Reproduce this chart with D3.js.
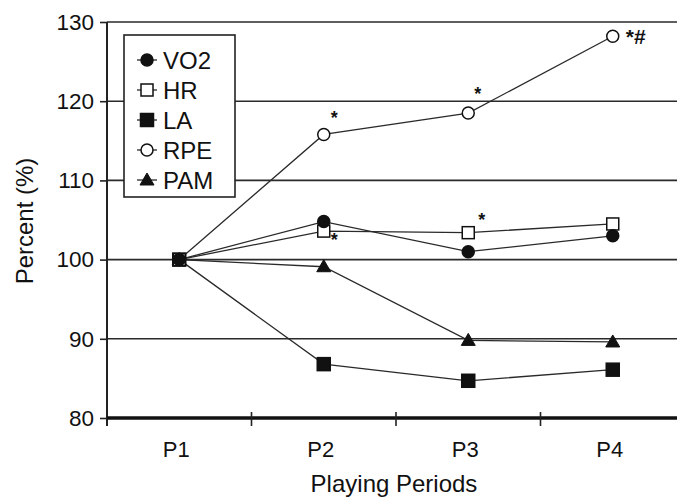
<!DOCTYPE html>
<html>
<head>
<meta charset="utf-8">
<script src="https://cdn.jsdelivr.net/npm/d3@7"></script>
<style>
  body { margin: 0; background: #fff; }
  svg { display: block; font-family: "Liberation Sans", Arial, sans-serif; }
</style>
</head>
<body>
<svg id="chart" width="677" height="497"></svg>
<script>
// playing periods and series values (% of P1)
const periods = ["P1", "P2", "P3", "P4"];
const vo2 = [100, 104.8, 101.0, 103.0];
const hr  = [100, 103.6, 103.4, 104.5];
const la  = [100, 86.8, 84.7, 86.1];
const rpe = [100, 115.8, 118.5, 128.2];
const pam = [100, 99.1, 89.8, 89.6];
const yTicks = [80, 90, 100, 110, 120, 130];

const seriesNames = ["VO2", "HR", "LA", "RPE", "PAM"];
// significance marks: [series, period, text]
const marks = [
  ["RPE", "P2", "*"],
  ["RPE", "P3", "*"],
  ["RPE", "P4", "*#"],
  ["HR", "P2", "*"],
  ["HR", "P3", "*"]
];

const series = [
  {name: "VO2", values: vo2, shape: "circle", fill: "#111"},
  {name: "HR",  values: hr,  shape: "square", fill: "#fff"},
  {name: "LA",  values: la,  shape: "square", fill: "#111"},
  {name: "RPE", values: rpe, shape: "circle", fill: "#fff"},
  {name: "PAM", values: pam, shape: "triangle", fill: "#111"}
];

var svg = d3.select("#chart");
var x = d3.scaleBand().domain(periods).range([107, 685]);
var y = d3.scaleLinear().domain([80, 130]).range([418, 22]);
var cx = function(p){ return x(p) + x.bandwidth() / 2; };

// gridlines
svg.append("g")
  .selectAll("line")
  .data(yTicks.filter(function(t){ return t > 80; }))
  .enter().append("line")
  .attr("x1", 107).attr("x2", 685)
  .attr("y1", function(d){ return y(d); })
  .attr("y2", function(d){ return y(d); })
  .attr("stroke", "#2a2a2a")
  .attr("stroke-width", 1.6);

// y axis
var yAxis = svg.append("g")
  .attr("transform", "translate(107,0)")
  .call(d3.axisLeft(y).tickValues(yTicks).tickSize(7).tickPadding(6));
yAxis.select(".domain").remove();
yAxis.selectAll(".tick line").attr("stroke", "#222").attr("stroke-width", 1.6);
yAxis.selectAll(".tick text")
  .attr("font-size", 22.5).attr("font-family", "Liberation Sans, Arial, sans-serif")
  .attr("fill", "#111");

svg.append("line")
  .attr("x1", 107).attr("x2", 107)
  .attr("y1", y(130)).attr("y2", 426)
  .attr("stroke", "#222").attr("stroke-width", 2);

// x axis
svg.append("line")
  .attr("x1", 107).attr("x2", 685)
  .attr("y1", y(80)).attr("y2", y(80))
  .attr("stroke", "#111").attr("stroke-width", 3.5);

svg.append("g")
  .selectAll("line")
  .data(periods.slice(1))
  .enter().append("line")
  .attr("x1", function(d){ return x(d); })
  .attr("x2", function(d){ return x(d); })
  .attr("y1", y(80) - 6).attr("y2", y(80) + 8)
  .attr("stroke", "#222").attr("stroke-width", 1.6);

svg.append("g")
  .selectAll("text")
  .data(periods)
  .enter().append("text")
  .attr("x", function(d){ return cx(d) - 3; })
  .attr("y", 457)
  .attr("text-anchor", "middle")
  .attr("font-size", 22)
  .attr("fill", "#111")
  .text(function(d){ return d; });

// axis titles
svg.append("text")
  .attr("x", 394).attr("y", 492)
  .attr("text-anchor", "middle")
  .attr("font-size", 24).attr("fill", "#111")
  .text("Playing Periods");

svg.append("text")
  .attr("transform", "translate(24,221) rotate(-90)")
  .attr("text-anchor", "middle")
  .attr("dominant-baseline", "central")
  .attr("font-size", 24).attr("fill", "#111")
  .text("Percent (%)");

function drawMarker(g, s, px, py){
  if(s.shape == "circle"){
    g.append("circle").attr("cx", px).attr("cy", py).attr("r", 6)
      .attr("fill", s.fill).attr("stroke", "#111").attr("stroke-width", 1.5);
  } else if(s.shape == "square"){
    var h = s.fill == "#fff" ? 6 : 6.5;
    g.append("rect").attr("x", px - h).attr("y", py - h)
      .attr("width", 2 * h).attr("height", 2 * h)
      .attr("fill", s.fill).attr("stroke", "#111").attr("stroke-width", 1.5);
  } else {
    g.append("path")
      .attr("d", "M" + px + "," + (py - 7) + "L" + (px + 7) + "," + (py + 5) + "L" + (px - 7) + "," + (py + 5) + "Z")
      .attr("fill", s.fill).attr("stroke", "#111").attr("stroke-width", 1);
  }
}

// lines
var line = d3.line()
  .x(function(d, i){ return cx(periods[i]); })
  .y(function(d){ return y(d); });

series.forEach(function(s){
  svg.append("path")
    .attr("d", line(s.values))
    .attr("fill", "none")
    .attr("stroke", "#2a2a2a")
    .attr("stroke-width", 1.3);
});

// markers, drawn in reverse so VO2 sits on top like the original
series.slice().reverse().forEach(function(s){
  var g = svg.append("g");
  s.values.forEach(function(v, i){
    drawMarker(g, s, cx(periods[i]), y(v));
  });
});

// significance marks
var markOffsets = {
  "RPE P2": [7, -10], "RPE P3": [6, -13], "RPE P4": [13, 8],
  "HR P2": [7, 15], "HR P3": [10, -7]
};
marks.forEach(function(m){
  var s = series.filter(function(d){ return d.name == m[0]; })[0];
  var i = periods.indexOf(m[1]);
  var off = markOffsets[m[0] + " " + m[1]];
  svg.append("text")
    .attr("x", cx(m[1]) + off[0])
    .attr("y", y(s.values[i]) + off[1])
    .attr("font-size", m[2].length > 1 ? 21 : 18)
    .attr("font-weight", "bold")
    .attr("fill", "#111")
    .text(m[2]);
});

// legend
var legend = svg.append("g").attr("transform", "translate(124,35)");
legend.append("rect")
  .attr("width", 111).attr("height", 162)
  .attr("fill", "#fff").attr("stroke", "#222").attr("stroke-width", 1.6);

seriesNames.forEach(function(name, i){
  var s = series[i];
  var ly = 25 + i * 30;
  legend.append("line")
    .attr("x1", 13).attr("x2", 33).attr("y1", ly).attr("y2", ly)
    .attr("stroke", "#2a2a2a").attr("stroke-width", 1.3);
  drawMarker(legend, s, 23, ly);
  legend.append("text")
    .attr("x", 39).attr("y", ly)
    .attr("dominant-baseline", "central")
    .attr("font-size", 24).attr("fill", "#111")
    .text(name);
});
</script>
</body>
</html>
